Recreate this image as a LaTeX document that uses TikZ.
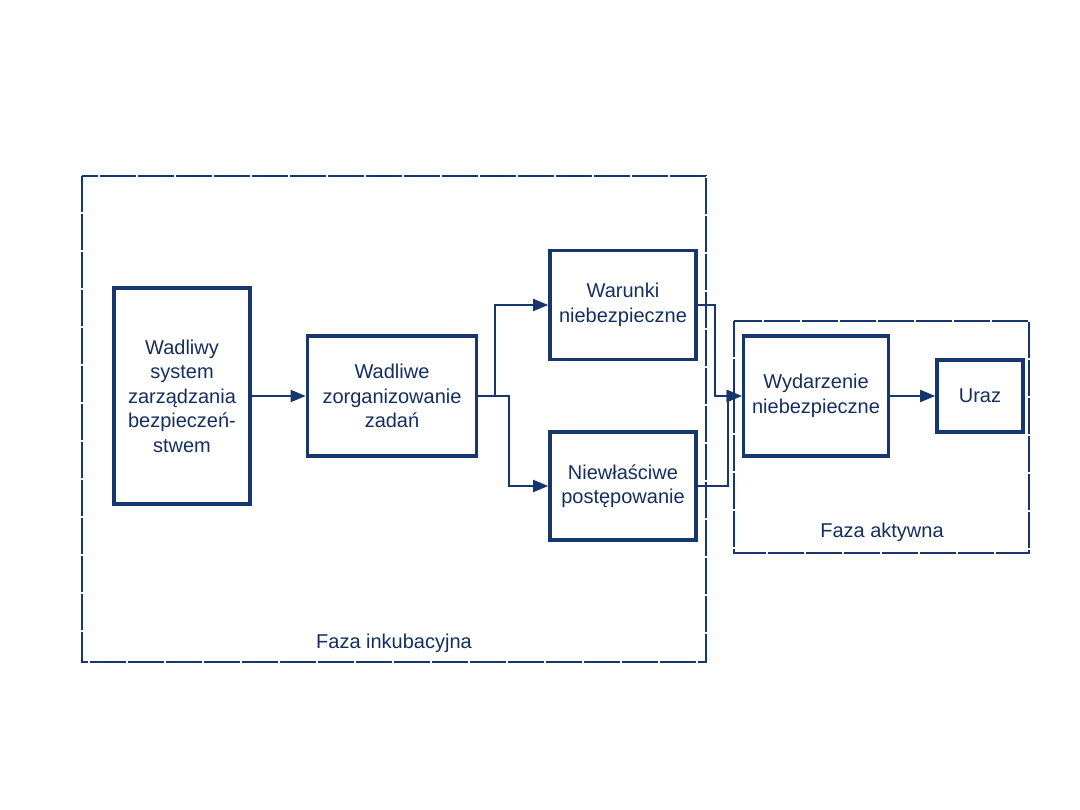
\documentclass[tikz,border=0pt]{standalone}
\usepackage{fontspec}
\setmainfont{Liberation Sans}
\usepackage{xcolor}
\usepackage{tikz}
\usetikzlibrary{arrows.meta,calc,positioning}
\definecolor{navy}{RGB}{24,54,110}

\begin{document}
\begin{tikzpicture}[x=1pt,y=-1pt,
  box/.style={draw=navy,line width=3.6pt,align=center,text=navy!85!black,inner sep=0pt,
    font=\fontsize{20}{24.5}\selectfont},
  frame/.style={draw=navy,line width=1.8pt,dash pattern=on 36pt off 2pt},
  conn/.style={draw=navy,line width=1.8pt},
  arr/.style={conn,-{Triangle[length=15pt,width=12pt]}},
  phase/.style={text=navy!85!black,font=\fontsize{20}{24}\selectfont}]
  \useasboundingbox (0,0) rectangle (1080,810);
  % ramki faz
  \draw[frame] (82,176) rectangle (706,662);
  \draw[frame] (734,321) rectangle (1029,553);
  \node[phase] (inkub) at (394,643) {Faza inkubacyjna};
  \node[phase] (aktyw) at (882,532) {Faza aktywna};
  % bloki
  \node[box,minimum width=136pt,minimum height=216pt] (sys) at (182,396)
    {Wadliwy\\system\\zarządzania\\bezpieczeń-\\stwem};
  \node[box,minimum width=169pt,minimum height=120pt] (org) at (392,396)
    {Wadliwe\\zorganizowanie\\zadań};
  \node[box,minimum width=146pt,minimum height=109pt] (war) at (623,305)
    {Warunki\\niebezpieczne};
  \node[box,minimum width=146pt,minimum height=108pt] (post) at (623,486)
    {Niewłaściwe\\postępowanie};
  \node[box,minimum width=145pt,minimum height=120pt] (wyd) at (816,396)
    {Wydarzenie\\niebezpieczne};
  \node[box,minimum width=86pt,minimum height=72pt] (uraz) at (980,396) {Uraz};
  % polaczenia
  \draw[arr] (sys) -- (org);
  \draw[arr] (org.east) -- ++(17,0) |- (war.west);
  \draw[arr] (org.east) -- ++(31,0) |- (post.west);
  \draw[arr] (war.east) -- ++(17,0) |- (wyd.west);
  \draw[arr] (post.east) -- ++(30,0) |- (wyd.west);
  \draw[arr] (wyd) -- (uraz);
\end{tikzpicture}
\end{document}
